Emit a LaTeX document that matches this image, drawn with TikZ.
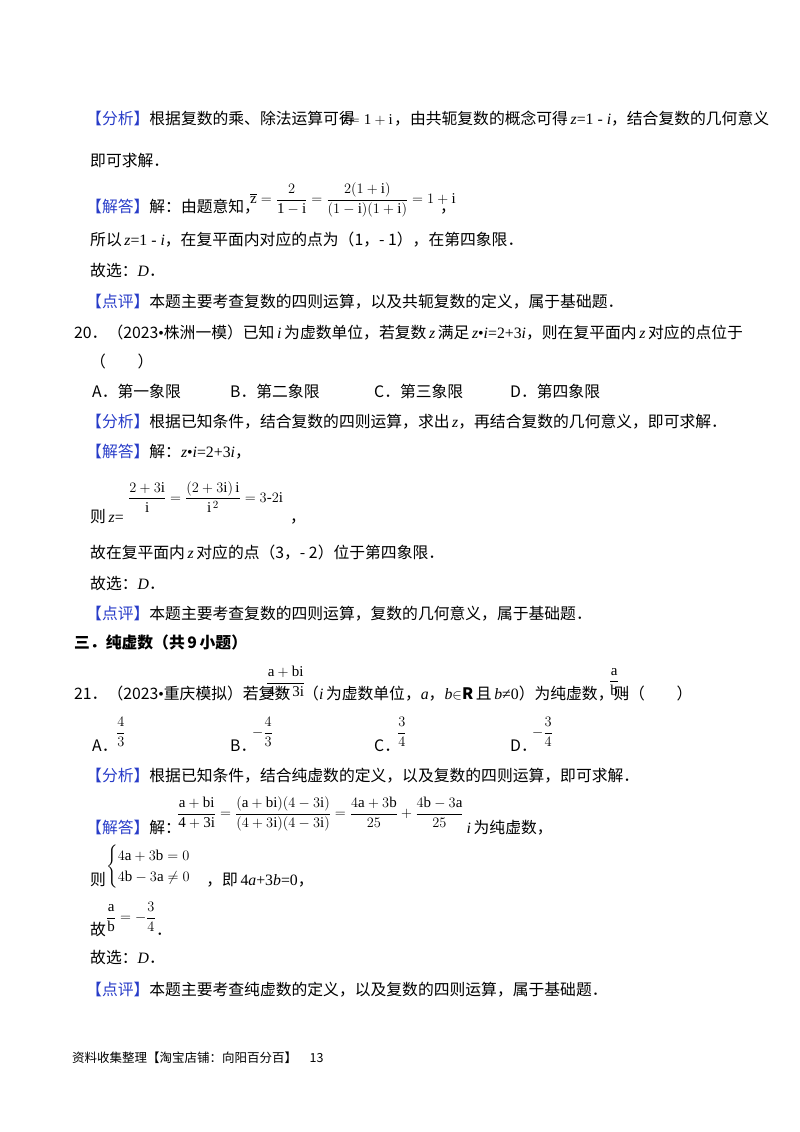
\documentclass[tikz,border=0pt]{standalone}
\usepackage{amsmath}
\usepackage{fontspec}
\setmainfont{Liberation Serif}
\newfontfamily\cjk{Noto Sans CJK SC}
\definecolor{lab}{RGB}{40,60,200}
\begin{document}
\begin{tikzpicture}[x=1pt,y=-1pt,
  t/.style={anchor=base west,inner sep=0pt,font=\cjk\fontsize{15.8}{18}\selectfont},
  m/.style={anchor=west,inner sep=0pt,font=\fontsize{15}{17}\selectfont}]
\useasboundingbox (0,0) rectangle (800,1132);
\newcommand{\lb}[1]{\textcolor{lab}{【#1】}}
% Q19 tail
\node[t] (a1) at (86,124) {\lb{分析}根据复数的乘、除法运算可得};
\node[m,anchor=base west] (a2) at (342,124) {$\overline{\mathrm{z}}\mathrm{=1+i}$};
\node[t] (a3) at (394,124) {，由共轭复数的概念可得\,{\rmfamily\itshape z}{\rmfamily =1 - \itshape i}，结合复数的几何意义};
\node[t] (a4) at (90,166) {即可求解．};
\node[t] (b1) at (86,212) {\lb{解答}解：由题意知，};
\node[m] (b2) at (250,200) {$\overline{\mathrm{z}}=\dfrac{2}{\mathrm{1-i}}=\dfrac{2(1+\mathrm{i})}{(1-\mathrm{i})(1+\mathrm{i})}=1+\mathrm{i}$};
\node[t] (b3) at (440,212) {，};
\node[t] (c1) at (90,245) {所以\,{\rmfamily\itshape z}{\rmfamily =1 - \itshape i}，在复平面内对应的点为（1，- 1），在第四象限．};
\node[t] (c2) at (90,276) {故选：{\rmfamily\itshape D}．};
\node[t] (c3) at (86,307) {\lb{点评}本题主要考查复数的四则运算，以及共轭复数的定义，属于基础题．};
% Q20
\node[t] (d1) at (74,338) {20．（2023{\rmfamily•}株洲一模）已知\,{\rmfamily\itshape i}\,为虚数单位，若复数\,{\rmfamily\itshape z}\,满足\,{\rmfamily\itshape z}{\rmfamily •\itshape i}{\rmfamily =2+3\itshape i}，则在复平面内\,{\rmfamily\itshape z}\,对应的点位于};
\node[t] (d2) at (90,367) {（\qquad）};
\node[t] (e1) at (92,397) {A．第一象限};
\node[t] (e2) at (230,397) {B．第二象限};
\node[t] (e3) at (374,397) {C．第三象限};
\node[t] (e4) at (510,397) {D．第四象限};
\node[t] (f1) at (86,427) {\lb{分析}根据已知条件，结合复数的四则运算，求出\,{\rmfamily\itshape z}，再结合复数的几何意义，即可求解．};
\node[t] (f2) at (86,457) {\lb{解答}解：{\rmfamily\itshape z}{\rmfamily •\itshape i}{\rmfamily =2+3\itshape i}，};
\node[t] (g1) at (90,522) {则\,{\rmfamily\itshape z}{\rmfamily =}};
\node[m] (g2) at (128,497) {$\dfrac{2+3\mathrm{i}}{\mathrm{i}}=\dfrac{(2+3\mathrm{i})\,\mathrm{i}}{\mathrm{i}^{\,2}}=3\text{-}2\mathrm{i}$};
\node[t] (g3) at (290,522) {，};
\node[t] (h1) at (90,558) {故在复平面内\,{\rmfamily\itshape z}\,对应的点（3，- 2）位于第四象限．};
\node[t] (h2) at (90,589) {故选：{\rmfamily\itshape D}．};
\node[t] (h3) at (86,619) {\lb{点评}本题主要考查复数的四则运算，复数的几何意义，属于基础题．};
\node[t,font=\cjk\bfseries\fontsize{15.8}{18}\selectfont] (s3) at (74,648) {三．纯虚数（共\,9\,小题）};
% Q21
\node[t] (i1) at (74,699) {21．（2023{\rmfamily•}重庆模拟）若复数};
\node[m] (i2) at (266,682) {$\dfrac{\mathrm{a+bi}}{\mathrm{4+3i}}$};
\node[t] (i3) at (303,699) {（{\rmfamily\itshape i}\,为虚数单位，{\rmfamily\itshape a}，{\rmfamily\itshape b}$\in$\textbf{R}\,且\,{\rmfamily\itshape b}{\rmfamily ≠0}）为纯虚数，则};
\node[m] (i4) at (609,682) {$\dfrac{\mathrm{a}}{\mathrm{b}}$};
\node[t] (i5) at (620,699) {{\rmfamily =}（\qquad）};
\node[t] (j1) at (92,751) {A．};
\node[m] (j2) at (116,732) {$\dfrac{4}{3}$};
\node[t] (j3) at (230,751) {B．};
\node[m] (j4) at (252,732) {$-\dfrac{4}{3}$};
\node[t] (j5) at (374,751) {C．};
\node[m] (j6) at (397,732) {$\dfrac{3}{4}$};
\node[t] (j7) at (510,751) {D．};
\node[m] (j8) at (532,732) {$-\dfrac{3}{4}$};
\node[t] (k1) at (86,781) {\lb{分析}根据已知条件，结合纯虚数的定义，以及复数的四则运算，即可求解．};
\node[t] (l1) at (86,833) {\lb{解答}解：};
\node[m] (l2) at (177,814) {$\dfrac{\mathrm{a+bi}}{\mathrm{4+3i}}=\dfrac{(\mathrm{a+bi})(4-3\mathrm{i})}{(4+3\mathrm{i})(4-3\mathrm{i})}=\dfrac{4\mathrm{a}+3\mathrm{b}}{25}+\dfrac{4\mathrm{b}-3\mathrm{a}}{25}$};
\node[t] (l3) at (l2.east|-0,833) {\,{\rmfamily\itshape i}\,为纯虚数，};
\node[t] (m1) at (90,885) {则};
\node[m] (m2) at (106,867) {$\begin{cases}4\mathrm{a}+3\mathrm{b}=0\\ 4\mathrm{b}-3\mathrm{a}\neq0\end{cases}$};
\node[t] (m3) at (m2.east|-0,885) {，即\,{\rmfamily 4\itshape a}{\rmfamily +3\itshape b}{\rmfamily =0}，};
\node[t] (n1) at (90,935) {故};
\node[m] (n2) at (106,917) {$\dfrac{\mathrm{a}}{\mathrm{b}}=-\dfrac{3}{4}$};
\node[t] (n2b) at (n2.east|-0,935) {．};
\node[t] (n3) at (90,963) {故选：{\rmfamily\itshape D}．};
\node[t] (n4) at (86,995) {\lb{点评}本题主要考查纯虚数的定义，以及复数的四则运算，属于基础题．};
\node[t,font=\cjk\fontsize{12.5}{14}\selectfont] (ft) at (72,1062) {资料收集整理【淘宝店铺：向阳百分百】\quad 13};
\end{tikzpicture}
\end{document}
